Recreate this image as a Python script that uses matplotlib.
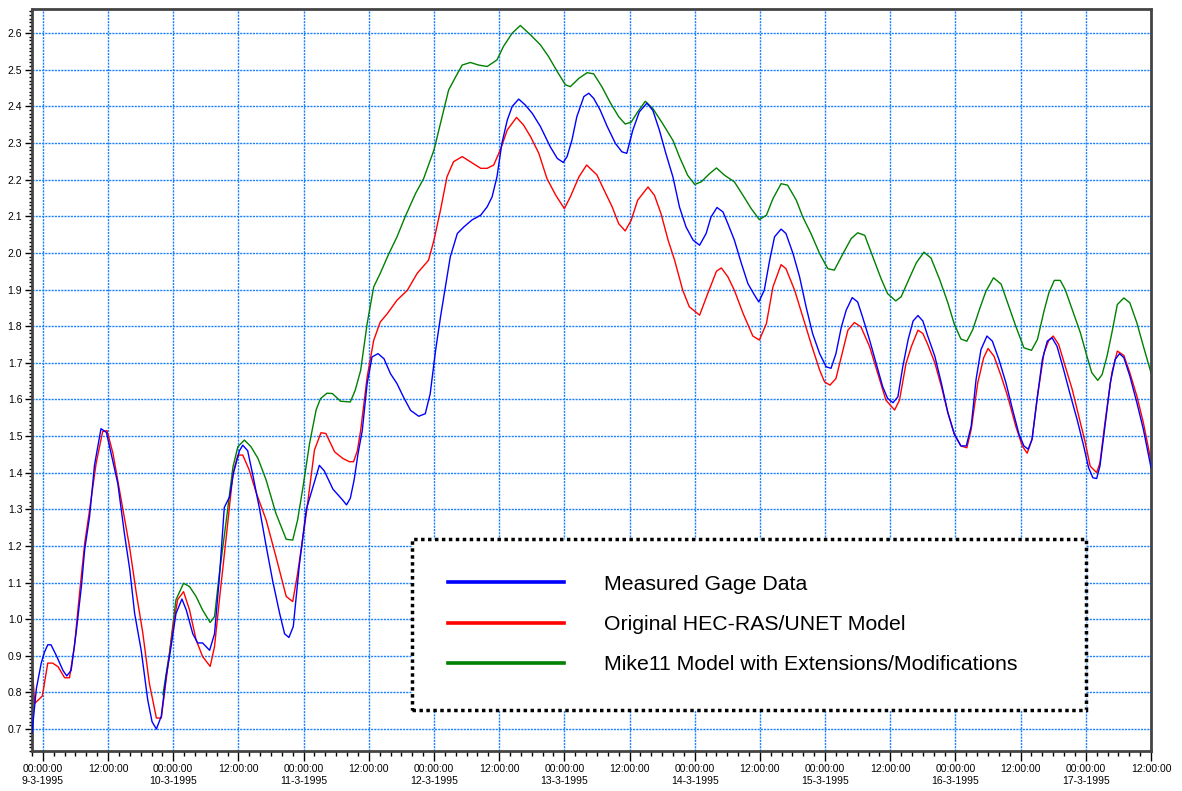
import matplotlib
matplotlib.use('Agg')
import matplotlib.pyplot as plt
from matplotlib.ticker import MultipleLocator, FuncFormatter

plt.rcParams['font.family'] = ['Liberation Sans', 'DejaVu Sans']

# hours after 9-3-1995 00:00:00, water level
measured = [
    (-2.0, 0.69), (-1.2, 0.81), (-0.3, 0.88), (0.3, 0.91), (0.9, 0.93), (1.5, 0.93), (2.5, 0.90),
    (3.7, 0.86), (4.4, 0.845), (5.2, 0.86), (6.1, 0.96), (7.1, 1.09), (7.7, 1.19), (8.6, 1.28),
    (9.5, 1.42), (10.7, 1.52), (11.7, 1.51), (12.6, 1.45), (13.8, 1.37), (15.0, 1.235), (16.0, 1.135),
    (16.9, 1.015), (18.1, 0.915), (19.3, 0.78), (20.1, 0.72), (20.9, 0.70), (21.8, 0.735), (22.7, 0.845),
    (23.6, 0.925), (24.5, 1.015), (25.6, 1.055), (26.4, 1.025), (27.6, 0.96), (28.5, 0.935), (29.4, 0.935),
    (30.7, 0.915), (31.6, 0.96), (32.5, 1.115), (33.4, 1.305), (34.4, 1.335), (35.1, 1.40), (36.2, 1.46),
    (36.8, 1.475), (37.7, 1.46), (38.7, 1.39), (39.9, 1.30), (41.1, 1.20), (42.3, 1.105), (43.6, 1.015),
    (44.5, 0.96), (45.3, 0.95), (46.1, 0.98), (47.2, 1.145), (48.5, 1.30), (49.7, 1.36), (50.9, 1.42),
    (51.8, 1.405), (53.4, 1.355), (55.2, 1.325), (55.9, 1.312), (56.6, 1.33), (57.3, 1.38), (58.0, 1.45),
    (58.8, 1.515), (59.7, 1.643), (60.6, 1.716), (61.7, 1.725), (62.8, 1.711), (64.0, 1.67), (65.2, 1.643),
    (66.4, 1.606), (67.7, 1.57), (69.2, 1.554), (70.4, 1.561), (71.3, 1.615), (72.3, 1.734), (73.2, 1.825),
    (74.1, 1.907), (75.0, 1.989), (76.3, 2.053), (77.5, 2.071), (79.0, 2.09), (80.6, 2.103), (81.8, 2.126),
    (82.7, 2.153), (83.6, 2.208), (84.5, 2.299), (85.5, 2.363), (86.4, 2.40), (87.6, 2.42), (88.8, 2.404),
    (90.1, 2.381), (91.6, 2.345), (93.4, 2.29), (94.7, 2.258), (95.8, 2.247), (96.5, 2.263), (97.4, 2.308),
    (98.3, 2.372), (99.6, 2.427), (100.5, 2.436), (101.4, 2.422), (102.6, 2.39), (103.9, 2.345),
    (105.4, 2.299), (106.6, 2.276), (107.5, 2.272), (108.6, 2.335), (109.8, 2.385), (111.2, 2.409),
    (112.3, 2.389), (113.5, 2.335), (114.7, 2.271), (116.0, 2.207), (117.2, 2.125), (118.4, 2.071),
    (119.7, 2.035), (120.9, 2.021), (122.1, 2.053), (123.0, 2.098), (124.1, 2.124), (125.2, 2.112),
    (126.1, 2.08), (127.3, 2.035), (128.6, 1.971), (129.8, 1.916), (131.0, 1.885), (131.8, 1.866),
    (132.8, 1.898), (133.8, 1.98), (134.7, 2.044), (135.9, 2.065), (136.8, 2.053), (138.1, 1.998),
    (139.3, 1.935), (140.5, 1.853), (141.7, 1.78), (143.0, 1.725), (144.2, 1.689), (145.1, 1.685),
    (146.0, 1.725), (147.0, 1.798), (147.9, 1.844), (149.0, 1.878), (150.0, 1.866), (150.9, 1.825),
    (152.2, 1.762), (153.4, 1.698), (154.6, 1.635), (155.5, 1.603), (156.5, 1.591), (157.4, 1.607),
    (158.3, 1.689), (159.3, 1.764), (160.2, 1.814), (161.1, 1.829), (162.0, 1.814), (162.9, 1.773),
    (164.2, 1.718), (165.4, 1.645), (166.6, 1.564), (167.8, 1.505), (169.0, 1.473), (170.0, 1.473),
    (170.9, 1.527), (171.8, 1.655), (172.7, 1.736), (173.8, 1.773), (174.8, 1.759), (176.0, 1.709),
    (177.3, 1.645), (178.5, 1.573), (179.7, 1.505), (180.6, 1.473), (181.4, 1.464), (182.1, 1.491),
    (183.1, 1.609), (184.0, 1.709), (184.9, 1.759), (185.8, 1.768), (186.7, 1.745), (187.9, 1.682),
    (189.2, 1.609), (190.4, 1.545), (191.6, 1.473), (192.5, 1.414), (193.3, 1.386), (194.0, 1.384),
    (194.6, 1.418), (195.6, 1.536), (196.5, 1.645), (197.4, 1.709), (198.2, 1.725), (199.0, 1.714),
    (200.1, 1.664), (201.4, 1.591), (202.6, 1.518), (204.0, 1.414),
]

hec_ras = [
    (-2.0, 0.88), (-1.5, 0.77), (-0.1, 0.79), (0.9, 0.88), (1.8, 0.88), (2.8, 0.87), (4.0, 0.84),
    (4.9, 0.84), (5.8, 0.925), (6.75, 1.07), (7.7, 1.207), (8.6, 1.298), (9.8, 1.425), (11.0, 1.512),
    (11.8, 1.515), (12.9, 1.453), (14.1, 1.353), (15.95, 1.198), (17.2, 1.071), (18.4, 0.962),
    (19.6, 0.825), (20.9, 0.73), (21.8, 0.73), (22.7, 0.835), (23.9, 0.971), (24.8, 1.053), (25.9, 1.075),
    (27.0, 1.025), (28.2, 0.944), (29.4, 0.898), (30.8, 0.871), (31.6, 0.925), (32.5, 1.053),
    (33.7, 1.216), (35.0, 1.398), (35.9, 1.448), (36.8, 1.448), (38.0, 1.407), (39.3, 1.344),
    (41.1, 1.271), (42.9, 1.171), (44.8, 1.062), (46.0, 1.048), (46.9, 1.125), (48.5, 1.289),
    (50.0, 1.462), (51.2, 1.509), (52.1, 1.507), (53.7, 1.457), (55.2, 1.439), (56.4, 1.43),
    (57.2, 1.43), (57.9, 1.46), (58.5, 1.515), (59.7, 1.661), (60.9, 1.761), (62.1, 1.811), (63.4, 1.834),
    (65.2, 1.871), (67.1, 1.898), (68.9, 1.944), (71.0, 1.98), (72.0, 2.035), (73.2, 2.117), (74.4, 2.208),
    (75.6, 2.249), (77.2, 2.263), (78.7, 2.249), (80.6, 2.231), (81.8, 2.231), (83.0, 2.24), (84.2, 2.281),
    (85.5, 2.336), (87.2, 2.37), (88.5, 2.349), (89.8, 2.317), (91.3, 2.272), (92.8, 2.203), (94.4, 2.158),
    (96.0, 2.121), (97.1, 2.153), (98.7, 2.208), (100.1, 2.24), (102.0, 2.213), (103.3, 2.172),
    (104.8, 2.126), (106.0, 2.08), (107.2, 2.06), (108.3, 2.089), (109.5, 2.144), (111.4, 2.18),
    (112.6, 2.157), (113.8, 2.107), (115.1, 2.035), (116.3, 1.98), (117.8, 1.898), (119.0, 1.853),
    (120.9, 1.83), (122.4, 1.889), (124.0, 1.95), (124.9, 1.959), (126.1, 1.935), (127.3, 1.898),
    (128.9, 1.835), (130.7, 1.773), (131.9, 1.762), (133.2, 1.807), (134.4, 1.907), (135.9, 1.968),
    (136.8, 1.957), (138.4, 1.898), (139.9, 1.825), (141.4, 1.753), (143.0, 1.68), (143.9, 1.648),
    (144.9, 1.639), (146.0, 1.657), (147.3, 1.735), (148.2, 1.789), (149.4, 1.81), (150.6, 1.798),
    (152.2, 1.744), (153.7, 1.671), (155.2, 1.598), (156.8, 1.571), (157.7, 1.598), (158.9, 1.698),
    (159.9, 1.745), (161.1, 1.789), (162.0, 1.78), (162.9, 1.75), (164.2, 1.70), (165.4, 1.636),
    (166.6, 1.564), (167.8, 1.505), (169.0, 1.473), (170.1, 1.468), (170.9, 1.518), (172.1, 1.645),
    (173.2, 1.714), (174.0, 1.739), (175.1, 1.718), (176.4, 1.664), (177.6, 1.609), (179.1, 1.527),
    (180.3, 1.473), (181.2, 1.453), (182.1, 1.491), (183.1, 1.609), (184.3, 1.727), (185.2, 1.762),
    (186.0, 1.773), (187.0, 1.75), (188.2, 1.691), (189.5, 1.627), (190.7, 1.555), (191.9, 1.482),
    (192.8, 1.418), (194.0, 1.40), (194.6, 1.427), (195.6, 1.545), (196.8, 1.673), (197.8, 1.732),
    (199.0, 1.72), (200.1, 1.673), (201.4, 1.609), (202.6, 1.536), (204.0, 1.432),
]

mike11 = [
    (22.1, 0.794), (23.3, 0.907), (24.5, 1.053), (25.9, 1.098), (27.0, 1.089), (28.2, 1.062),
    (29.4, 1.025), (30.8, 0.991), (31.6, 1.007), (32.5, 1.125), (33.7, 1.262), (35.0, 1.416),
    (35.9, 1.471), (37.1, 1.489), (38.3, 1.471), (39.6, 1.439), (41.1, 1.38), (42.9, 1.289),
    (44.8, 1.218), (46.0, 1.216), (46.9, 1.271), (47.9, 1.362), (49.1, 1.48), (50.3, 1.571),
    (51.1, 1.602), (52.3, 1.617), (53.3, 1.616), (54.8, 1.595), (56.6, 1.593), (57.5, 1.625),
    (58.5, 1.679), (59.7, 1.807), (60.9, 1.907), (62.1, 1.944), (63.7, 1.998), (65.2, 2.044),
    (66.7, 2.099), (68.6, 2.162), (70.1, 2.203), (72.0, 2.281), (73.5, 2.372), (74.7, 2.445),
    (76.0, 2.481), (77.2, 2.513), (78.7, 2.52), (80.2, 2.513), (81.8, 2.509), (83.6, 2.527),
    (84.8, 2.564), (86.4, 2.60), (87.9, 2.621), (89.8, 2.595), (91.6, 2.568), (93.1, 2.536),
    (94.7, 2.495), (96.2, 2.459), (97.1, 2.454), (98.7, 2.477), (100.2, 2.492), (101.4, 2.489),
    (102.9, 2.454), (104.5, 2.409), (106.0, 2.372), (107.2, 2.352), (108.3, 2.357), (109.5, 2.385),
    (110.9, 2.414), (112.3, 2.394), (114.1, 2.353), (116.0, 2.307), (117.2, 2.262), (118.7, 2.212),
    (120.0, 2.187), (121.2, 2.194), (122.7, 2.216), (124.0, 2.232), (125.5, 2.212), (127.3, 2.194),
    (128.9, 2.157), (130.4, 2.121), (131.9, 2.091), (133.2, 2.103), (134.4, 2.148), (135.9, 2.189),
    (137.1, 2.185), (138.7, 2.144), (139.9, 2.098), (141.4, 2.053), (143.0, 1.998), (144.5, 1.957),
    (145.7, 1.953), (147.3, 1.998), (148.8, 2.039), (150.0, 2.055), (151.3, 2.048), (152.8, 1.989),
    (154.3, 1.93), (155.5, 1.889), (157.0, 1.869), (158.0, 1.88), (159.4, 1.927), (160.8, 1.973),
    (162.2, 2.002), (163.5, 1.986), (165.1, 1.927), (166.6, 1.864), (167.8, 1.805), (169.0, 1.765),
    (170.1, 1.759), (171.2, 1.791), (172.4, 1.845), (173.6, 1.895), (175.0, 1.932), (176.4, 1.915),
    (177.6, 1.864), (179.1, 1.80), (180.6, 1.741), (182.0, 1.734), (183.1, 1.764), (184.3, 1.841),
    (185.2, 1.891), (186.2, 1.925), (187.3, 1.925), (188.2, 1.90), (189.5, 1.845), (191.0, 1.782),
    (192.2, 1.718), (193.1, 1.673), (194.2, 1.652), (195.0, 1.668), (195.9, 1.718), (196.8, 1.782),
    (197.8, 1.859), (199.0, 1.877), (200.1, 1.864), (201.4, 1.809), (202.6, 1.745), (204.0, 1.673),
]

labels = ['Measured Gage Data', 'Original HEC-RAS/UNET Model',
          'Mike11 Model with Extensions/Modifications']
colors = ['#0000ff', '#ff0000', '#008000']


def hour_label(h, pos):
    h = int(round(h))
    if h % 24 == 0:
        return '00:00:00\n%d-3-1995' % (9 + h // 24)
    return '12:00:00'


fig = plt.figure(figsize=(11.82, 7.91), dpi=100)
ax = fig.add_axes([32 / 1182, 40 / 791, 1119 / 1182, 742 / 791])

series = [measured, hec_ras, mike11]
lines = []
for pts, col, lab, z in zip(series, colors, labels, [3, 2, 1]):
    xs = [p[0] for p in pts]
    ys = [p[1] for p in pts]
    ln, = ax.plot(xs, ys, color=col, lw=1.0, label=lab, zorder=z)
    lines.append(ln)

ax.set_xlim(-2.0, 204)
ax.set_ylim(0.64, 2.666)

ax.xaxis.set_major_locator(MultipleLocator(12))
ax.xaxis.set_minor_locator(MultipleLocator(2))
ax.xaxis.set_major_formatter(FuncFormatter(hour_label))
ax.yaxis.set_major_locator(MultipleLocator(0.1))
ax.yaxis.set_minor_locator(MultipleLocator(0.01))
ax.yaxis.set_major_formatter(FuncFormatter(lambda v, p: '%.1f' % v))

ax.tick_params(axis='x', which='major', length=7, width=1, labelsize=7.5, pad=2.5)
ax.tick_params(axis='x', which='minor', length=3.5, width=1)
ax.tick_params(axis='y', which='major', length=5, width=1, labelsize=7.5, pad=2)
ax.tick_params(axis='y', which='minor', length=2.5, width=1)

ax.grid(True, which='major', color='#1a80ff', linestyle=(0, (1.5, 0.8)), linewidth=1.0, zorder=0)
ax.set_axisbelow(True)

for sp in ax.spines.values():
    sp.set_linestyle((0, (1, 1)))
    sp.set_linewidth(2)
    sp.set_color('#444444')

leg = ax.legend(handles=lines, loc='upper left',
                bbox_to_anchor=(412 / 1182, 84 / 791, 674 / 1182, 168 / 791),
                bbox_transform=fig.transFigure, mode='expand', borderaxespad=0,
                fontsize=15.3, handlelength=5.46, handletextpad=1.88, labelspacing=1.0,
                borderpad=1.68, fancybox=False, framealpha=1, edgecolor='black')
leg.get_frame().set_linestyle((0, (1, 1)))
leg.get_frame().set_linewidth(2.5)
for h in leg.get_lines():
    h.set_linewidth(2.6)

fig.savefig('out.png', dpi=100)
